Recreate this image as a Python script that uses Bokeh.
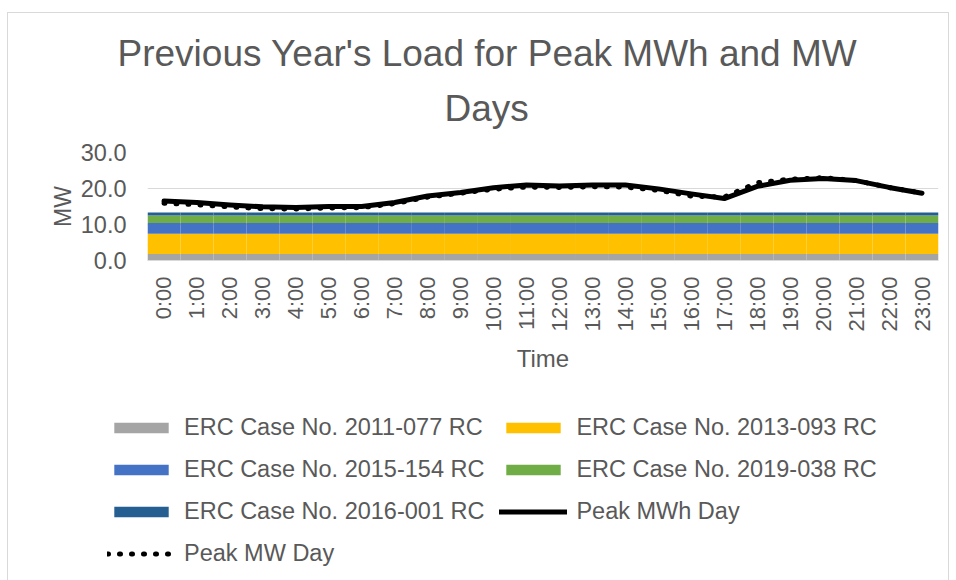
import math
from bokeh.plotting import figure
from bokeh.layouts import column
from bokeh.models import (FactorRange, Range1d, PrintfTickFormatter, Legend,
                          LegendItem, Title, ColumnDataSource)
from bokeh.embed import file_html
from bokeh.resources import INLINE

# ---------------- data ----------------
hours = ["0:00", "1:00", "2:00", "3:00", "4:00", "5:00", "6:00", "7:00",
         "8:00", "9:00", "10:00", "11:00", "12:00", "13:00", "14:00", "15:00",
         "16:00", "17:00", "18:00", "19:00", "20:00", "21:00", "22:00", "23:00"]

erc_2011_077 = [1.8] * 24
erc_2013_093 = [5.6] * 24
erc_2015_154 = [3.0] * 24
erc_2019_038 = [2.1] * 24
erc_2016_001 = [0.8] * 24

peak_mwh_day = [16.5, 16.1, 15.4, 14.9, 14.7, 15.0, 15.0, 16.1, 17.9, 18.9,
                20.2, 21.0, 20.7, 21.0, 21.0, 19.9, 18.5, 17.2, 20.6, 22.3,
                22.8, 22.2, 20.3, 18.7]
peak_mw_day = [15.9, 15.5, 14.9, 14.4, 14.3, 14.6, 14.7, 15.8, 17.6, 18.7,
               19.8, 20.4, 20.3, 20.5, 20.4, 19.5, 17.9, 17.6, 21.6, 22.6,
               23.0, 22.2, 20.3, 18.7]

y_ticks = [0, 10, 20, 30]

stack_names = ["ERC Case No. 2011-077 RC", "ERC Case No. 2013-093 RC",
               "ERC Case No. 2015-154 RC", "ERC Case No. 2019-038 RC",
               "ERC Case No. 2016-001 RC"]
line_names = ["Peak MWh Day", "Peak MW Day"]
title_line1 = "Previous Year's Load for Peak MWh and MW"
title_line2 = "Days"

# ---------------- style ----------------
FONT = "Liberation Sans"
TXT = "#595959"
stack_colors = ["#a5a5a5", "#ffc000", "#4472c4", "#70ad47", "#255e91"]
stack_cols = ["s0", "s1", "s2", "s3", "s4"]

src = ColumnDataSource(dict(hours=hours, s0=erc_2011_077, s1=erc_2013_093,
                            s2=erc_2015_154, s3=erc_2019_038, s4=erc_2016_001,
                            mwh=peak_mwh_day, mw=peak_mw_day))


def style_lines(fig):
    dotted = fig.line("hours", "mw", source=src, line_color="black", line_width=5,
                      line_dash="1 11", line_cap="round")
    solid = fig.line("hours", "mwh", source=src, line_color="black", line_width=5,
                     line_join="round", line_cap="round")
    return solid, dotted


p = figure(x_range=FactorRange(*hours, range_padding=0), y_range=Range1d(0, 30),
           width=940, height=377, output_backend="svg", toolbar_location=None,
           title=None, min_border_left=139, min_border_right=10,
           min_border_top=139, min_border_bottom=130)
p.outline_line_color = None
p.background_fill_color = "white"
p.border_fill_color = "white"

bars = p.vbar_stack(stack_cols, x="hours", width=1.0,
                    color=stack_colors, line_color=None, source=src)
mwh_line, mw_line = style_lines(p)

# axes
p.yaxis.ticker = y_ticks
p.yaxis.formatter = PrintfTickFormatter(format="%.1f")
p.yaxis.axis_line_color = None
p.yaxis.major_tick_line_color = None
p.yaxis.minor_tick_line_color = None
p.yaxis.major_label_standoff = 15
p.yaxis.major_label_text_font = FONT
p.yaxis.major_label_text_font_size = "23.5px"
p.yaxis.major_label_text_color = TXT
p.yaxis.axis_label = "MW"
p.yaxis.axis_label_text_font = FONT
p.yaxis.axis_label_text_font_size = "23px"
p.yaxis.axis_label_text_font_style = "normal"
p.yaxis.axis_label_text_color = TXT
p.yaxis.axis_label_standoff = 2

p.xaxis.major_label_orientation = math.pi / 2
p.xaxis.axis_line_color = "#d9d9d9"
p.xaxis.major_tick_line_color = None
p.xaxis.minor_tick_line_color = None
p.xaxis.major_label_standoff = 10
p.xaxis.major_label_text_font = FONT
p.xaxis.major_label_text_font_size = "22px"
p.xaxis.major_label_text_color = TXT
p.xaxis.axis_label = "Time"
p.xaxis.axis_label_text_font = FONT
p.xaxis.axis_label_text_font_size = "24px"
p.xaxis.axis_label_text_font_style = "normal"
p.xaxis.axis_label_text_color = TXT
p.xaxis.axis_label_standoff = 10

p.xgrid.grid_line_color = None
p.ygrid.grid_line_color = "#d9d9d9"
p.ygrid.grid_line_width = 1

# titles
t2 = Title(text=title_line2, align="left", offset=297, text_font=FONT,
           text_font_size="37px", text_font_style="normal", text_color=TXT, standoff=47)
t1 = Title(text=title_line1, align="left", offset=-30, text_font=FONT,
           text_font_size="37px", text_font_style="normal", text_color=TXT, standoff=-23)
p.add_layout(t2, "above")
p.add_layout(t1, "above")

# ---------------- legend panel (separate canvas below the chart) ----------------
# same series drawn again but scrolled out of view, so the legend keys get their styles
lg = figure(width=940, height=190, output_backend="svg", toolbar_location=None,
            x_range=FactorRange(*hours, range_padding=0), y_range=Range1d(1000, 1001),
            x_axis_type=None, y_axis_type=None, title=None,
            min_border_left=139, min_border_right=10, min_border_top=0, min_border_bottom=0)
lg.grid.visible = False
lg.outline_line_color = None
lg.background_fill_alpha = 0
lg.border_fill_alpha = 0
lg.styles = {"margin-left": "-40px"}

key_bars = lg.vbar_stack(stack_cols, x="hours", width=1.0,
                         color=stack_colors, line_color=None, source=src)
key_mwh, key_mw = style_lines(lg)

items = [
    LegendItem(label=stack_names[0], renderers=[key_bars[0]]),
    LegendItem(label=stack_names[1], renderers=[key_bars[1]]),
    LegendItem(label=stack_names[2], renderers=[key_bars[2]]),
    LegendItem(label=stack_names[3], renderers=[key_bars[3]]),
    LegendItem(label=stack_names[4], renderers=[key_bars[4]]),
    LegendItem(label=line_names[0], renderers=[key_mwh]),
    LegendItem(label=line_names[1], renderers=[key_mw]),
]
legend = Legend(items=items, location=(0, 13), orientation="horizontal", ncols=2,
                glyph_width=68, glyph_height=13, label_standoff=9, spacing=15,
                padding=0, margin=0, border_line_color=None, background_fill_alpha=0,
                label_text_font=FONT, label_text_font_size="23.5px",
                label_text_color=TXT)
lg.add_layout(legend)

layout = column(p, lg, spacing=0)
layout.styles = {"border": "1px solid #d9d9d9", "border-bottom": "none",
                 "margin-top": "12px", "margin-left": "7px"}

open("out.html", "w").write(file_html(layout, INLINE))
